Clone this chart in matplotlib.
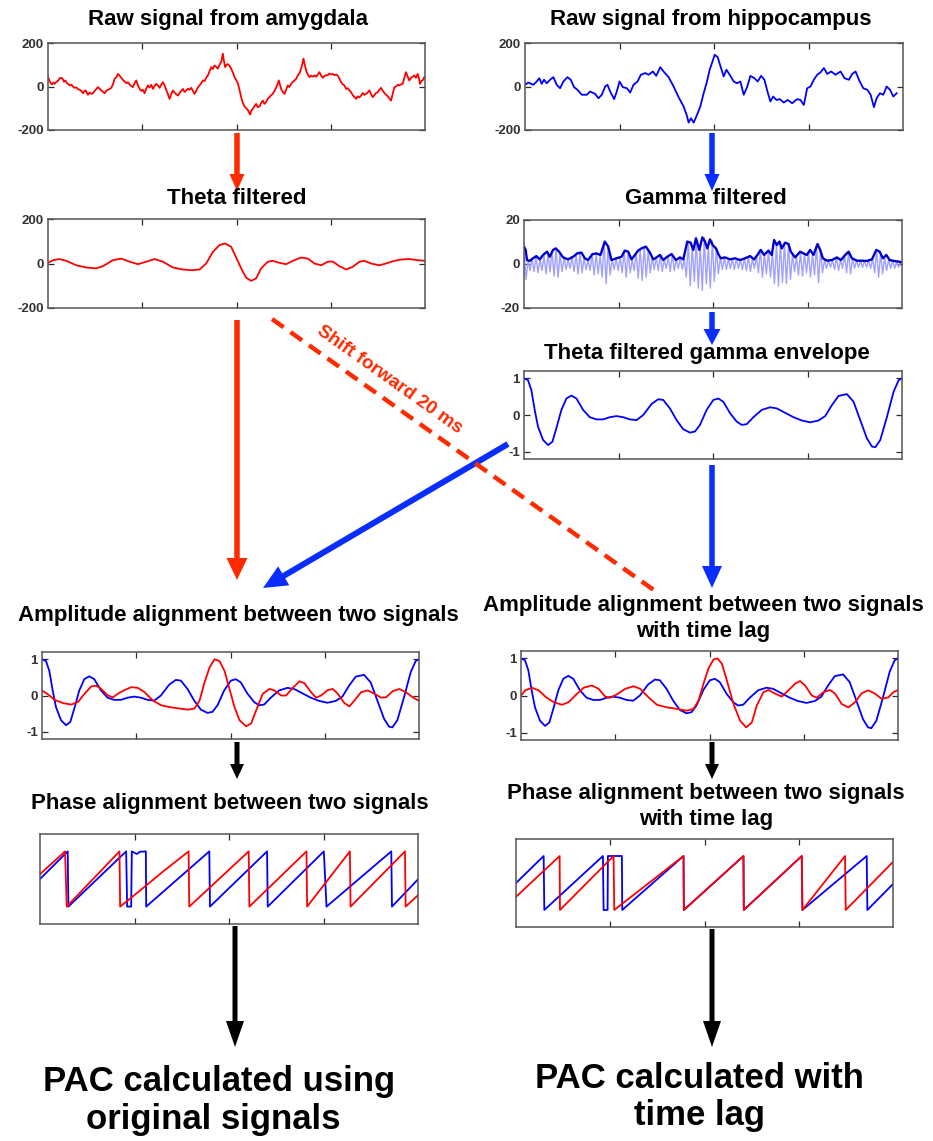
import numpy as np
import matplotlib
matplotlib.use("Agg")
import matplotlib.pyplot as plt
from matplotlib.patches import FancyArrow

plt.rcParams['font.family'] = ['Liberation Sans', 'DejaVu Sans']

# ---- data (x = sample index, 0..1132 across each panel) ----
amy_t = [0, 4, 8, 12, 16, 20, 25, 30, 35, 40, 44, 48, 52, 57, 62, 66, 71, 76, 80, 85,
         90, 95, 100, 105, 109, 113, 117, 120, 125, 130, 135, 140, 145, 150, 155, 160, 165, 170, 175, 180,
         185, 190, 195, 200, 205, 210, 215, 220, 225, 230, 236, 240, 245, 250, 255, 260, 265, 270, 275, 280,
         285, 290, 295, 300, 305, 310, 315, 320, 325, 330, 335, 340, 345, 350, 355, 360, 365, 370, 375, 380,
         385, 390, 395, 400, 405, 410, 415, 420, 425, 430, 435, 440, 445, 450, 455, 460, 465, 470, 475, 480,
         485, 490, 495, 500, 505, 510, 515, 520, 523, 525, 528, 532, 536, 540, 545, 550, 555, 560, 565, 570,
         575, 580, 585, 590, 595, 600, 604, 607, 611, 615, 620, 625, 630, 635, 640, 645, 650, 655, 660, 665,
         670, 675, 680, 685, 689, 693, 697, 700, 705, 710, 715, 720, 725, 730, 735, 740, 745, 750, 755, 760,
         764, 767, 771, 775, 780, 785, 790, 795, 800, 805, 810, 815, 820, 825, 830, 835, 840, 845, 850, 855,
         860, 865, 870, 875, 880, 885, 890, 895, 900, 905, 910, 915, 920, 925, 930, 935, 940, 945, 950, 955,
         960, 965, 970, 975, 980, 985, 990, 995, 1000, 1005, 1010, 1015, 1020, 1025, 1030, 1035, 1040, 1045, 1050, 1055,
         1060, 1065, 1070, 1075, 1080, 1085, 1090, 1095, 1100, 1105, 1110, 1114, 1117, 1121, 1126, 1130]
amy_raw = [43, 28, 15, 10, 18, 12, 22, 25, 38, 40, 35, 22, 28, 15, 10, 5, 8, -2, -6, -4,
           -12, -15, -20, -31, -22, -18, -30, -38, -28, -34, -31, -20, -12, -3, -10, -18, -24, -31, -20, -15,
           -12, -6, 10, 35, 42, 58, 50, 40, 30, 23, 15, 20, 9, 2, -3, 15, 28, 5, -11, -20,
           -15, -31, -10, 5, -5, 8, -11, 2, 12, 5, -6, 8, 20, 5, -15, -35, -57, -35, -18, -28,
           -35, -42, -30, -20, -11, -25, -18, -10, -15, -6, -20, -34, -20, -5, 5, 15, 28, 25, 40, 51,
           70, 89, 80, 97, 90, 82, 100, 112, 135, 151, 120, 89, 100, 103, 95, 82, 65, 43, 30, 15,
           -15, -49, -75, -92, -100, -108, -120, -129, -110, -103, -90, -80, -95, -92, -75, -65, -80, -72, -55, -49,
           -40, -34, -20, -6, 10, 28, 5, -11, -25, -34, -15, 5, -2, 12, 20, 28, 35, 51, 60, 82,
           105, 128, 100, 74, 55, 43, 50, 45, 51, 45, 55, 66, 50, 40, 48, 52, 51, 60, 55, 58,
           52, 55, 51, 35, 20, 10, 5, -11, -8, -18, -26, -40, -48, -57, -45, -50, -42, -30, -38, -34,
           -28, -18, -35, -49, -40, -30, -26, -15, -6, -20, -30, -37, -45, -55, -65, -35, -3, 0, 8, 5,
           10, 12, 40, 66, 45, 28, 40, 45, 51, 40, 58, 35, 12, 25, 30, 43]

hip_t = [0, 10, 25, 35, 43, 50, 57, 65, 75, 85, 95, 105, 115, 127, 137, 147, 157, 170, 185, 195,
         210, 220, 230, 240, 247, 255, 267, 275, 283, 293, 305, 315, 325, 337, 347, 360, 370, 383, 393, 405,
         415, 430, 445, 460, 475, 485, 490, 497, 505, 515, 525, 535, 545, 553, 560, 568, 577, 587, 595, 603,
         613, 625, 635, 645, 655, 665, 675, 687, 697, 707, 717, 727, 735, 743, 753, 763, 775, 787, 800, 815,
         825, 835, 845, 855, 865, 875, 885, 895, 905, 917, 930, 945, 957, 970, 980, 990, 1000, 1013, 1025, 1035,
         1045, 1053, 1063, 1073, 1083, 1093, 1103, 1113]
hip_raw = [8, 18, 8, 23, 38, 12, 31, 15, 31, 43, 8, -8, 23, 43, 31, -3, -15, -38, -38, -23,
           -34, -54, -38, 0, 8, -23, -58, -23, 23, -3, -8, -28, 8, 23, 54, 62, 54, 69, 49, 89,
           69, 43, 0, -49, -92, -135, -166, -146, -166, -131, -92, -31, 23, 77, 108, 146, 135, 85, 46, 77,
           54, 23, 15, 23, -38, -3, 49, 38, 23, 49, 31, -28, -69, -46, -62, -58, -74, -62, -77, -58,
           -62, -85, -8, 0, 31, 54, 65, 85, 58, 69, 54, 69, 38, 31, 58, 69, 31, -8, -15, -38,
           -95, -54, -31, -38, 0, -15, -46, -31]

theta_t = [0, 15, 35, 55, 85, 115, 145, 165, 195, 220, 245, 270, 295, 320, 345, 375, 405, 430, 455, 475,
           495, 515, 532, 550, 565, 580, 595, 610, 625, 640, 660, 675, 695, 715, 735, 760, 780, 800, 820, 840,
           855, 875, 895, 915, 935, 950, 970, 995, 1015, 1035, 1060, 1085, 1110, 1130]
theta_amy = [3, 15, 20, 12, -8, -18, -22, -12, 15, 22, 8, -3, 8, 20, 8, -18, -27, -30, -27, 0,
             52, 83, 90, 75, 27, -22, -64, -78, -67, -22, 8, 12, 3, -3, 12, 27, 22, 0, -8, 8,
             9, -12, -27, -15, 8, 12, 0, -8, 0, 10, 18, 20, 15, 12]

gam_env_t = [0, 5, 9, 17, 27, 37, 47, 57, 69, 77, 87, 95, 105, 117, 132, 147, 159, 172, 182, 192,
             205, 217, 229, 242, 252, 262, 277, 292, 302, 312, 322, 332, 342, 352, 365, 377, 387, 397, 407, 417,
             429, 442, 455, 467, 477, 489, 499, 507, 515, 525, 534, 542, 549, 557, 565, 575, 582, 589, 602, 617,
             632, 647, 662, 677, 689, 699, 709, 719, 732, 742, 749, 757, 765, 772, 782, 792, 799, 812, 827, 837,
             847, 857, 867, 879, 887, 895, 907, 922, 937, 949, 962, 972, 982, 997, 1012, 1027, 1042, 1055, 1065, 1075,
             1085, 1095, 1107, 1122, 1134]
gam_env = [7.9, 6.4, 1.8, 1.4, 2.6, 3.6, 2.1, 4.1, 5.6, 3.3, 6.4, 7.1, 5.6, 3.0, 2.1, 3.3, 4.8, 5.2, 2.6, 1.8,
           4.5, 4.8, 4.1, 10.2, 7.9, 1.8, 2.6, 3.3, 6.1, 5.6, 2.1, 4.1, 6.1, 7.1, 7.9, 5.2, 2.1, 3.0, 4.1, 1.8,
           3.3, 4.5, 1.8, 3.0, 2.1, 10.2, 9.7, 6.4, 11.7, 6.4, 12.1, 10.2, 7.1, 11.2, 8.6, 7.1, 4.5, 2.6, 3.0, 2.1,
           2.6, 1.8, 2.6, 3.6, 2.1, 4.1, 6.4, 4.1, 6.1, 4.1, 10.9, 8.6, 10.2, 7.1, 9.7, 9.1, 5.6, 3.0, 5.6, 4.8,
           4.1, 6.4, 4.1, 9.1, 6.4, 2.6, 1.5, 1.8, 3.0, 1.8, 4.1, 5.6, 2.6, 1.5, 1.5, 1.4, 2.1, 6.4, 5.6, 2.6,
           4.1, 1.8, 1.4, 1.1, 0.6]

# gamma-band trace: successive crests and troughs, half a cycle apart
gam_peaks = [7.5, 1.5, 2.5, 3.5, 2, 4, 4.5, 6, 7, 4.5, 3, 2, 3, 4.5, 5, 3, 1.8, 4.5, 4.8, 4,
             10, 8, 2, 2.5, 3, 6, 5.5, 2, 5, 7, 7.8, 6, 3, 3, 4, 2, 3.2, 4.5, 2, 3,
             2.5, 10, 8, 11.5, 8, 12, 8, 10.5, 7, 2.8, 3, 2.2, 2.3, 2.5, 1.8, 2.5, 3.3, 2.6, 3.5, 6.2,
             4.5, 6, 5, 9, 10, 9.5, 9, 4.5, 3, 5.5, 4.8, 5.5, 4.5, 8.5, 6, 2, 1.5, 1.8, 3, 2,
             4, 5.5, 2.5, 1.5, 1.5, 1.5, 1.6, 2.5, 6.2, 5, 3, 2, 1.5, 1.2, 0.8]
gam_troughs = [-7, -3, -3.5, -4, -3, -4.5, -3.5, -5.5, -6, -3.5, -2.5, -2, -3.5, -4.5, -4, -2.5, -3, -5, -4.5, -6,
               -9, -5, -2.5, -3, -4, -6, -4, -3, -6.5, -7.5, -6, -4, -2.5, -3, -3.5, -2, -3.5, -3, -2, -2.5,
               -6, -10, -8, -11, -12, -9, -11, -8, -4.5, -2.5, -2.5, -2, -2.5, -2, -2.5, -3, -3.5, -2, -4, -6,
               -4.5, -6, -9, -10, -8.5, -9, -7, -3.5, -5, -5.5, -4, -6, -5, -8.5, -4, -2, -1.5, -2.5, -3, -2,
               -4, -4.5, -2, -1.5, -1.5, -1.5, -2, -4, -6, -4.5, -3, -2, -2, -1.5]

env_t = [0, 12, 22, 32, 42, 57, 72, 85, 97, 112, 127, 142, 157, 177, 197, 217, 237, 257, 277, 297,
         317, 337, 357, 382, 402, 417, 437, 457, 477, 497, 512, 527, 547, 567, 582, 597, 617, 637, 652, 667,
         687, 712, 737, 757, 782, 807, 832, 857, 882, 902, 922, 942, 967, 987, 1007, 1027, 1042, 1052, 1067, 1087,
         1107, 1122, 1132]
gamma_env_theta = [1.0, 0.95, 0.68, 0.14, -0.32, -0.68, -0.82, -0.73, -0.36, 0.14, 0.45, 0.53, 0.45, 0.14, -0.06, -0.12, -0.12, -0.06, -0.03, -0.06,
                   -0.12, -0.14, 0.0, 0.3, 0.43, 0.41, 0.18, -0.14, -0.39, -0.48, -0.45, -0.27, 0.14, 0.41, 0.45, 0.36, 0.05, -0.18, -0.27, -0.25,
                   -0.06, 0.14, 0.21, 0.18, 0.06, -0.06, -0.15, -0.2, -0.15, -0.03, 0.27, 0.52, 0.57, 0.36, -0.14, -0.64, -0.86, -0.88, -0.68, -0.05,
                   0.64, 0.95, 1.0]

amp_t = [0, 18, 38, 63, 88, 108, 128, 148, 163, 178, 198, 213, 228, 248, 268, 288, 308, 333, 358, 383,
         413, 438, 458, 473, 488, 503, 518, 533, 548, 563, 578, 593, 613, 628, 643, 663, 683, 698, 718, 733,
         753, 773, 788, 808, 823, 838, 858, 873, 888, 908, 923, 938, 958, 978, 998, 1018, 1033, 1053, 1073, 1093,
         1113, 1131]
theta_norm = [0.14, 0.03, -0.12, -0.21, -0.25, -0.18, 0.05, 0.25, 0.27, 0.18, 0.0, -0.05, 0.05, 0.15, 0.23, 0.21, 0.09, -0.14, -0.27, -0.32,
              -0.36, -0.39, -0.36, -0.14, 0.36, 0.77, 1.0, 0.95, 0.68, 0.18, -0.32, -0.68, -0.85, -0.77, -0.41, 0.05, 0.18, 0.14, 0.0, 0.0,
              0.21, 0.39, 0.34, 0.09, -0.06, 0.0, 0.15, 0.18, 0.05, -0.21, -0.3, -0.14, 0.09, 0.14, 0.05, -0.06, -0.05, 0.12, 0.18, 0.09,
              -0.05, -0.14]

lag_t = [0, 13, 33, 53, 73, 98, 123, 143, 163, 188, 213, 233, 253, 268, 288, 313, 338, 358, 383, 408,
         438, 468, 498, 518, 533, 548, 563, 578, 590, 603, 618, 638, 658, 676, 693, 708, 728, 743, 763, 783,
         803, 823, 838, 853, 873, 888, 908, 928, 943, 963, 983, 1003, 1023, 1043, 1063, 1083, 1103, 1118, 1133]
theta_lag = [0.0, 0.14, 0.21, 0.14, -0.03, -0.18, -0.25, -0.18, 0.0, 0.21, 0.27, 0.18, -0.03, -0.06, 0.03, 0.18, 0.25, 0.18, -0.05, -0.25,
             -0.32, -0.36, -0.41, -0.36, -0.14, 0.32, 0.73, 0.97, 1.0, 0.86, 0.41, -0.23, -0.68, -0.86, -0.73, -0.27, 0.09, 0.15, 0.05, -0.03,
             0.14, 0.32, 0.39, 0.27, 0.0, -0.06, 0.09, 0.15, 0.05, -0.23, -0.32, -0.18, 0.06, 0.14, 0.05, -0.09, -0.05, 0.09, 0.15]

# instantaneous phase (rad); paired samples at one index are the wraps
ph_red_t = [0, 75, 80, 238, 240, 300, 370, 445, 447, 625, 627, 798, 800, 928, 930, 1093, 1095, 1133]
ph_red = [0.55, 3.14, -3.14, 3.14, -3.14, -1.3, 0.9, 3.14, -3.14, 3.14, -3.14, 3.14, -3.14, 3.14, -3.14, 3.14, -3.14, -1.81]
ph_blue_t = [0, 83, 85, 258, 261, 273, 275, 290, 300, 317, 318, 507, 509, 680, 682, 850, 858, 1052, 1054, 1133]
ph_blue = [0.0, 3.14, -3.14, 3.14, -3.14, -3.14, 3.14, 2.85, 3.1, 3.14, -3.14, 3.14, -3.14, 3.14, -3.14, 3.14, -3.14, 3.14, -3.14, 0.0]

lag_red_t = [0, 131, 132, 293, 295, 503, 504, 683, 684, 858, 860, 988, 990, 1133]
lag_red = [-1.61, 3.14, -3.14, 3.14, -3.14, 3.14, -3.14, 3.14, -3.14, 3.14, -3.14, 3.14, -3.14, 2.49]
lag_blue_t = [0, 83, 85, 261, 263, 275, 276, 318, 319, 503, 504, 683, 684, 858, 860, 1053, 1055, 1133]
lag_blue = [0.0, 3.14, -3.14, 3.14, -3.14, -3.14, 3.14, 3.14, -3.14, 3.14, -3.14, 3.14, -3.14, 3.14, -3.14, 3.14, -3.14, -0.08]

# ---- figure ----
W, H = 933, 1141
fig = plt.figure(figsize=(W / 100, H / 100), dpi=100)

over = fig.add_axes([0, 0, 1, 1])
over.set_xlim(0, W)
over.set_ylim(H, 0)
over.axis('off')

XMAX = 1132
EDGE = '#2b2b2b'
RED = '#ff0000'
BLUE = '#0000ff'


def panel(x0, y0, x1, y1, ylim, yt=None, ylab=None):
    ax = fig.add_axes([x0 / W, 1 - y1 / H, (x1 - x0) / W, (y1 - y0) / H])
    ax.set_xlim(0, XMAX)
    ax.set_ylim(*ylim)
    ax.set_xticks([XMAX * 0.25, XMAX * 0.5, XMAX * 0.75])
    ax.set_xticklabels([])
    if yt is None:
        ax.set_yticks([])
    else:
        ax.set_yticks(yt)
        ax.set_yticklabels(ylab)
    ax.tick_params(direction='in', top=True, right=True, length=4, width=0.9,
                   colors=EDGE, labelsize=9.5, pad=3)
    for lab in ax.get_yticklabels():
        lab.set_fontweight('bold')
        lab.set_color('#333333')
    for s in ax.spines.values():
        s.set_color('#555555')
        s.set_linewidth(1.1)
    return ax


def title(x, y, s, size=16):
    over.text(x, y, s, ha='center', va='center', fontsize=size, fontweight='bold')


lw = 1.3

ax = panel(48, 43, 425, 130, (-200, 200), [-200, 0, 200], ['-200', '0', '200'])
ax.plot(amy_t, amy_raw, color=RED, lw=lw)
title(228, 20, 'Raw signal from amygdala')

ax = panel(525, 43, 903, 130, (-200, 200), [-200, 0, 200], ['-200', '0', '200'])
ax.plot(hip_t, hip_raw, color=BLUE, lw=lw)
title(711, 20, 'Raw signal from hippocampus')

ax = panel(48, 219, 425, 308, (-200, 200), [-200, 0, 200], ['-200', '0', '200'])
ax.plot(theta_t, theta_amy, color=RED, lw=lw)
title(237, 198, 'Theta filtered')

ax = panel(524, 220, 902, 308, (-20, 20), [-20, 0, 20], ['-20', '0', '20'])
gam = np.empty(len(gam_peaks) + len(gam_troughs))
gam[0::2] = gam_peaks
gam[1::2] = gam_troughs
ax.plot(np.arange(len(gam)) * 6, gam, color='#a0a0ff', lw=1.0)
ax.plot(gam_env_t, gam_env, color='#0000d0', lw=1.7)
title(706, 198, 'Gamma filtered')

ax = panel(524, 371, 902, 459, (-1.2, 1.2), [-1, 0, 1], ['-1', '0', '1'])
ax.plot(env_t, gamma_env_theta, color=BLUE, lw=lw)
title(707, 353, 'Theta filtered gamma envelope')

ax = panel(42, 652, 419, 739, (-1.2, 1.2), [-1, 0, 1], ['-1', '0', '1'])
ax.plot(env_t, gamma_env_theta, color=BLUE, lw=lw)
ax.plot(amp_t, theta_norm, color=RED, lw=lw)
title(238, 615, 'Amplitude alignment between two signals')

ax = panel(521, 651, 898, 740, (-1.2, 1.2), [-1, 0, 1], ['-1', '0', '1'])
ax.plot(env_t, gamma_env_theta, color=BLUE, lw=lw)
ax.plot(lag_t, theta_lag, color=RED, lw=lw)
title(703, 605, 'Amplitude alignment between two signals')
title(703, 632, 'with time lag')

ax = panel(40, 834, 418, 924, (-5.12, 5.12))
ax.plot(ph_blue_t, ph_blue, color=BLUE, lw=lw)
ax.plot(ph_red_t, ph_red, color=RED, lw=lw)
title(230, 803, 'Phase alignment between two signals')

ax = panel(516, 839, 893, 927, (-5.12, 5.12))
ax.plot(lag_blue_t, lag_blue, color=BLUE, lw=lw)
ax.plot(lag_red_t, lag_red, color=RED, lw=lw)
title(706, 793, 'Phase alignment between two signals')
title(706, 820, 'with time lag')

# ---- arrows ----
AR = '#ff2a00'
AB = '#0a2dff'


def arrow(x0, y0, x1, y1, color, w=5.5, hw=17, hl=20):
    over.add_patch(FancyArrow(x0, y0, x1 - x0, y1 - y0, width=w, head_width=hw,
                              head_length=hl, length_includes_head=True,
                              color=color, lw=0))


arrow(237, 133, 237, 191, AR, hw=15, hl=17)
arrow(712, 133, 712, 191, AB, hw=15, hl=17)
arrow(237, 320, 237, 580, AR, hw=21, hl=22)
arrow(712, 312, 712, 345, AB, hw=17, hl=16)
arrow(712, 465, 712, 588, AB, hw=20, hl=22)

over.plot([272, 658], [319, 593], color=AR, lw=3.2, ls=(0, (3.2, 1.9)))
arrow(508, 444, 263, 588, AB, w=6, hw=22, hl=24)
over.text(390, 380, 'Shift forward 20 ms', color=AR, fontsize=13.5, fontweight='bold',
          rotation=-35.4, ha='center', va='center', rotation_mode='anchor')

arrow(237, 742, 237, 779, 'k', w=5, hw=14, hl=15)
arrow(712, 742, 712, 779, 'k', w=5, hw=14, hl=15)
arrow(235, 926, 235, 1047, 'k', w=5, hw=18, hl=26)
arrow(712, 929, 712, 1047, 'k', w=5, hw=18, hl=26)

for x, y, s in [(219, 1082, 'PAC calculated using'), (213, 1120, 'original signals'),
                (699, 1078, 'PAC calculated with'), (700, 1116, 'time lag')]:
    over.text(x, y, s, ha='center', va='center', fontsize=25, fontweight='bold')

fig.savefig('out.png', dpi=100, facecolor='white')
